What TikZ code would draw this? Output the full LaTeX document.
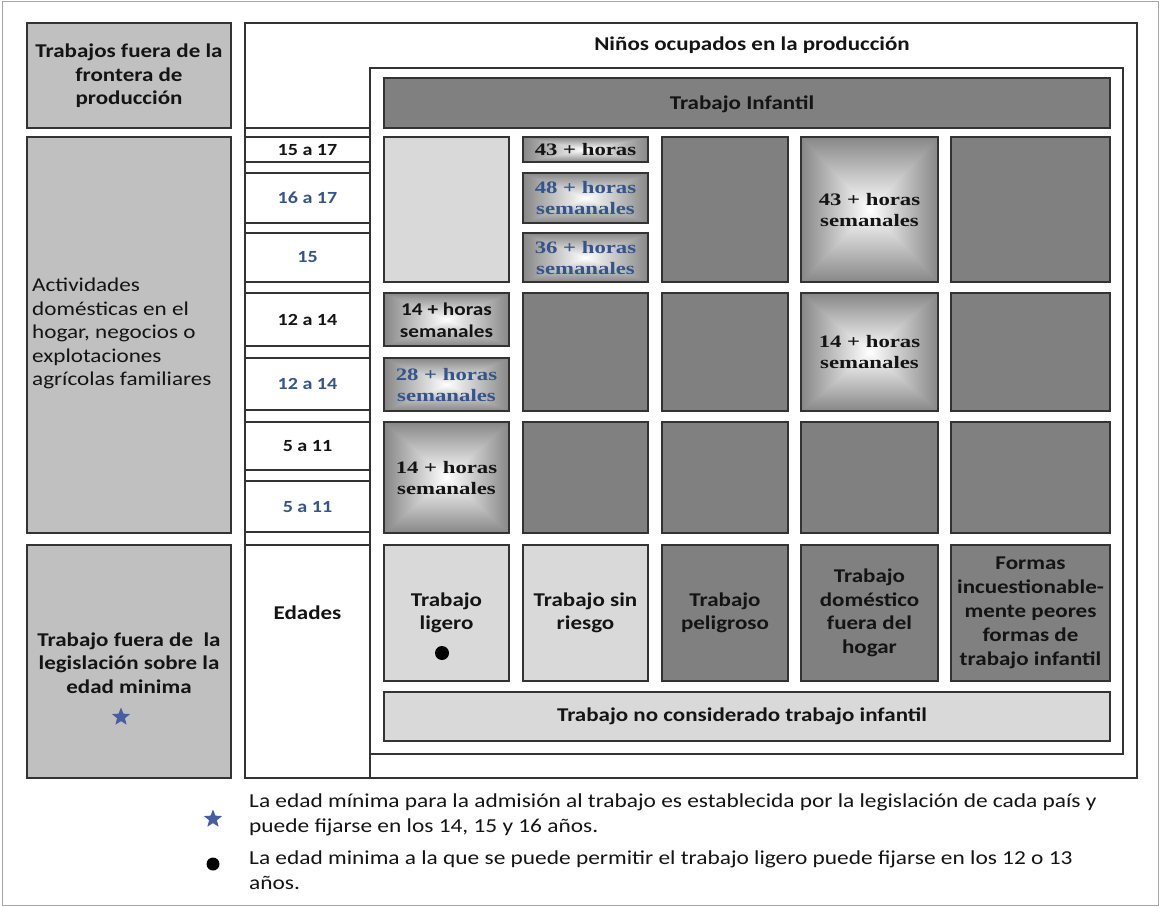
\documentclass[tikz,border=0pt]{standalone}
\usepackage{fontspec}
\setmainfont{Carlito}[FakeStretch=1.18]
\newfontfamily\serifb{Liberation Serif}[FakeStretch=1.3]
\usetikzlibrary{shapes.geometric}
\definecolor{cdark}{RGB}{128,128,128}
\definecolor{clight}{RGB}{217,217,217}
\definecolor{cleft}{RGB}{192,192,192}
\definecolor{cgr}{RGB}{135,135,135}
\definecolor{cblue}{RGB}{52,84,140}
\definecolor{cstar}{RGB}{70,95,160}
\definecolor{ctext}{RGB}{20,20,20}
\tikzset{
  boxline/.style={draw=black!80, line width=1.2pt},
  darkcell/.style={boxline, fill=cdark},
  lightcell/.style={boxline, fill=clight},
  leftcell/.style={boxline, fill=cleft},
  agecell/.style={boxline, fill=white},
  frame/.style={draw=black!80, line width=1.2pt},
  bl/.style={inner sep=0pt, align=center, text=ctext, font=\fontsize{19.5}{23.5}\selectfont\bfseries},
  rl/.style={inner sep=0pt, align=left, text=ctext, font=\fontsize{19.6}{23.5}\selectfont},
  agel/.style={inner sep=0pt, align=center, text=ctext, font=\fontsize{17}{21}\selectfont\bfseries},
  sl/.style={inner sep=0pt, align=center, text=ctext, font=\fontsize{17.5}{21}\selectfont\serifb\bfseries},
  blue/.style={text=cblue},
  starmark/.style={star, star points=5, star point ratio=2.3, fill=cstar, minimum size=19pt, inner sep=0pt},
}
\newcommand\gradbox[4]{%
  \shade[top color=cgr, bottom color=white] (#1,#2) rectangle (#3,{(#2+#4)/2});
  \shade[top color=white, bottom color=cgr] (#1,{(#2+#4)/2}) rectangle (#3,#4);
  \shade[left color=cgr, right color=white] (#1,#2) -- (#1,#4) -- ({(#1+#3)/2},{(#2+#4)/2}) -- cycle;
  \shade[left color=white, right color=cgr] (#3,#2) -- (#3,#4) -- ({(#1+#3)/2},{(#2+#4)/2}) -- cycle;
  \draw[boxline] (#1,#2) rectangle (#3,#4);
}
\begin{document}
\begin{tikzpicture}[x=1pt,y=-1pt]
\useasboundingbox (0,0) rectangle (1160,907);
\fill[white] (0,0) rectangle (1160,907);
\draw[gray!70, line width=1pt] (2,1.5) rectangle (1158,905.5);

% left column
\draw[leftcell] (27,23) rectangle (231,128);
\draw[leftcell] (27,137) rectangle (231,533);
\draw[leftcell] (27,545) rectangle (231,778);
% right big table
\draw[frame] (245,23) rectangle (1137,778);
\draw[frame] (245,128) -- (370,128);
% inner frame
\draw[frame] (370,68) rectangle (1123,754);

% age column
\draw[agecell] (245,137) rectangle (370,162);
\draw[agecell] (245,173) rectangle (370,223);
\draw[agecell] (245,233) rectangle (370,282);
\draw[agecell] (245,293) rectangle (370,346);
\draw[agecell] (245,358) rectangle (370,410);
\draw[agecell] (245,422) rectangle (370,470);
\draw[agecell] (245,481) rectangle (370,532);
\draw[agecell] (245,545) rectangle (370,778);

% header bar
\draw[darkcell] (384,78) rectangle (1110,128);

% row 1
\draw[lightcell] (384,137) rectangle (509,282);
\gradbox{523}{137}{648}{162}
\gradbox{523}{173}{648}{223}
\gradbox{523}{233}{648}{282}
\draw[darkcell] (662,137) rectangle (788,282);
\gradbox{801}{137}{938}{282}
\draw[darkcell] (951,137) rectangle (1110,282);
% row 2
\gradbox{384}{293}{509}{346}
\gradbox{384}{358}{509}{411}
\draw[darkcell] (523,293) rectangle (648,411);
\draw[darkcell] (662,293) rectangle (788,411);
\gradbox{801}{293}{938}{411}
\draw[darkcell] (951,293) rectangle (1110,411);
% row 3
\gradbox{384}{422}{509}{533}
\draw[darkcell] (523,422) rectangle (648,533);
\draw[darkcell] (662,422) rectangle (788,533);
\draw[darkcell] (801,422) rectangle (938,533);
\draw[darkcell] (951,422) rectangle (1110,533);
% row 4
\draw[lightcell] (384,545) rectangle (509,681);
\draw[lightcell] (523,545) rectangle (648,681);
\draw[darkcell] (662,545) rectangle (788,681);
\draw[darkcell] (801,545) rectangle (938,681);
\draw[darkcell] (951,545) rectangle (1110,681);
% bottom bar
\draw[lightcell] (384,692) rectangle (1110,741);

% texts
\node[bl] (tfront) at (129,76) {Trabajos fuera de la\\frontera de\\producción};
\node[rl, anchor=north west] (tact) at (32,278) {Actividades\\domésticas en el\\hogar, negocios o\\explotaciones\\agrícolas familiares};
\node[bl] (tleg) at (129,663) {Trabajo fuera de \ la\\legislación sobre la\\edad minima};
\node[starmark] (star1) at (121,717) {};

\node[bl] (ttitle) at (752,45) {Niños ocupados en la producción};
\node[bl] (tinf) at (742,104) {Trabajo Infantil};

\node[agel] (a1) at (307.5,150) {15 a 17};
\node[agel, blue] (a2) at (307.5,198) {16 a 17};
\node[agel, blue] (a3) at (307.5,257) {15};
\node[agel] (a4) at (307.5,320) {12 a 14};
\node[agel, blue] (a5) at (307.5,384) {12 a 14};
\node[agel] (a6) at (307.5,446) {5 a 11};
\node[agel, blue] (a7) at (307.5,507) {5 a 11};
\node[bl] (edades) at (307.5,613) {Edades};

\node[sl] (h43a) at (585.5,150) {43 + horas};
\node[sl, blue] (h48) at (585.5,198) {48 + horas\\semanales};
\node[sl, blue] (h36) at (585.5,258) {36 + horas\\semanales};
\node[sl] (h43b) at (869.5,210) {43 + horas\\semanales};
\node[bl, font=\fontsize{18}{22}\selectfont\bfseries] (h14a) at (446.5,320) {14 + horas\\semanales};
\node[sl, blue] (h28) at (446.5,385) {28 + horas\\semanales};
\node[sl] (h14b) at (869.5,352) {14 + horas\\semanales};
\node[sl] (h14c) at (446.5,478) {14 + horas\\semanales};

\node[bl] (lig) at (446.5,613) {Trabajo\\ligero};
\fill[black] (442,653) circle (7pt);
\node[bl] (sinr) at (585.5,613) {Trabajo sin\\riesgo};
\node[bl] (pel) at (725,613) {Trabajo\\peligroso};
\node[bl] (dom) at (869.5,613) {Trabajo\\doméstico\\fuera del\\hogar};
\node[bl, font=\fontsize{19.5}{24}\selectfont\bfseries] (peor) at (1030.5,613) {Formas\\incuestionable-\\mente peores\\formas de\\trabajo infantil};
\node[bl] (nocons) at (742,716) {Trabajo no considerado trabajo infantil};

% legend
\node[starmark] (star2) at (213,819) {};
\node[rl, anchor=west, font=\fontsize{19.8}{25}\selectfont] (leg1) at (249,815) {La edad mínima para la admisión al trabajo es establecida por la legislación de cada país y\\puede fijarse en los 14, 15 y 16 años.};
\fill[black] (213,864) circle (6.5pt);
\node[rl, anchor=west, font=\fontsize{19.8}{25}\selectfont] (leg2) at (249,870) {La edad minima a la que se puede permitir el trabajo ligero puede fijarse en los 12 o 13\\años.};
\end{tikzpicture}
\end{document}
